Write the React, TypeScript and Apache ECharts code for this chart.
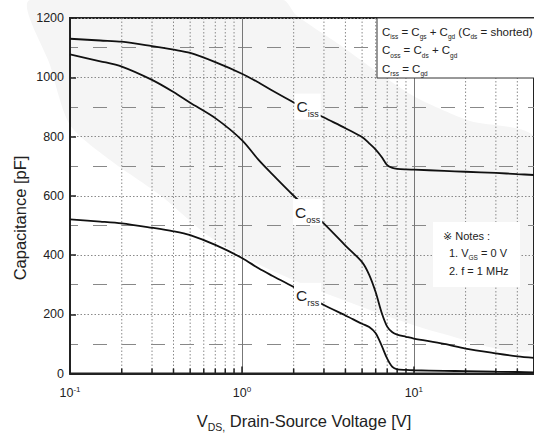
import { useEffect, useRef } from 'react';
import * as echarts from 'echarts';

// Drain-source voltage samples [V]
const vds = [0.1, 0.15, 0.2, 0.3, 0.4, 0.5, 0.7, 1, 1.25, 1.5, 2, 2.5, 3, 4, 5, 5.5, 6, 6.5, 7, 7.5, 8, 9, 10, 15, 20, 30, 40, 50];
// Capacitances [pF]
const ciss = [1130, 1124, 1120, 1105, 1093, 1082, 1051, 1012, 982, 955, 915, 888, 864, 828, 798, 777, 756, 731, 703, 694, 691, 689, 688, 684, 681, 677, 673, 670];
const coss = [1077, 1054, 1036, 991, 950, 914, 862, 788, 721, 673, 600, 547, 506, 432, 376, 333, 274, 205, 158, 139, 131, 124, 118, 100, 84, 68, 58, 53];
const crss = [520, 513, 507, 492, 480, 467, 434, 390, 355, 330, 292, 258, 231, 196, 168, 157, 136, 94, 50, 22, 14, 12, 11, 9, 8, 6, 5, 4];
// Minor (2..9) log grid positions
const xMinorTicks = [0.2, 0.3, 0.4, 0.5, 0.6, 0.7, 0.8, 0.9, 2, 3, 4, 5, 6, 7, 8, 9, 20, 30, 40];
// Curve labels: subscript, anchor voltage, anchor capacitance
const curveLabelSubs = ['iss', 'oss', 'rss'];
const curveLabelV = [2.41, 2.41, 2.41];
const curveLabelC = [901, 545, 262];

const FONT = '"Liberation Sans", Arial, "DejaVu Sans", sans-serif';
const TXT = '#222';

export default function App() {
  const ref = useRef<HTMLDivElement>(null);
  useEffect(() => {
    if (!ref.current) return;
    document.body.style.margin = '0';
    const chart = echarts.init(ref.current, undefined, { renderer: 'svg' });

    const mkSeries = (vals: number[], idx: number) => ({
      type: 'line',
      data: vds.map((v, i) => [v, vals[i]]),
      showSymbol: false,
      smooth: 0.3,
      z: 3,
      lineStyle: { color: '#111', width: 1.8 },
      markPoint: {
        symbol: 'rect',
        symbolSize: 1,
        itemStyle: { color: 'rgba(0,0,0,0)' },
        label: {
          show: true,
          position: 'inside',
          formatter: '{c|C}{s|' + curveLabelSubs[idx] + '}',
          backgroundColor: '#fff',
          padding: [1, 2, 1, 2],
          rich: {
            c: { fontSize: 15.5, lineHeight: 24, color: TXT, fontFamily: FONT },
            s: { fontSize: 9, lineHeight: 7, verticalAlign: 'bottom', color: TXT, fontFamily: FONT },
          },
        },
        data: [{ coord: [curveLabelV[idx], curveLabelC[idx]] }],
      },
    });

    const legendLine = (y: number, text: string) => ({
      type: 'text',
      x: 382,
      y,
      z: 51,
      style: {
        text,
        verticalAlign: 'middle',
        align: 'left',
        fill: TXT,
        rich: {
          m: { fontSize: 11.5, lineHeight: 17, fontFamily: FONT, fill: TXT },
          s: { fontSize: 6.5, lineHeight: 6.5, verticalAlign: 'bottom', fontFamily: FONT, fill: TXT },
        },
      },
    });

    chart.setOption({
      animation: false,
      grid: {
        left: 70,
        top: 18,
        width: 467,
        height: 355.5,
        show: true,
        borderColor: '#222',
        borderWidth: 2,
        backgroundColor: 'transparent',
      },
      xAxis: {
        type: 'log',
        logBase: 10,
        min: 0.1,
        max: 50,
        axisLine: { show: true, lineStyle: { color: '#222', width: 2 } },
        axisTick: { show: true, inside: true, length: 7, lineStyle: { color: '#222', width: 1.5 } },
        splitLine: { show: true, lineStyle: { color: '#777', width: 1, type: 'solid' } },
        axisLabel: {
          margin: 12,
          showMaxLabel: false,
          formatter: (v: number) => {
            const e = Math.log10(v);
            const r = Math.round(e);
            if (Math.abs(e - r) > 0.01) return '';
            return '{b|10}{p|' + (r < 0 ? '-' + -r : String(r)) + '}';
          },
          rich: {
            b: { fontSize: 12.5, lineHeight: 15, color: TXT, fontFamily: FONT },
            p: { fontSize: 8, lineHeight: 8, verticalAlign: 'top', color: TXT, fontFamily: FONT },
          },
        },
      },
      yAxis: {
        type: 'value',
        min: 0,
        max: 1200,
        interval: 200,
        axisLine: { show: true, lineStyle: { color: '#222', width: 2 } },
        axisTick: { show: true, inside: true, length: 6, lineStyle: { color: '#222', width: 1.5 } },
        axisLabel: { margin: 6, fontSize: 12.5, color: TXT, fontFamily: FONT, formatter: (v: number) => String(v) },
        splitLine: { show: true, lineStyle: { color: '#8a8a8a', width: 1, type: [1.5, 2] } },
        minorTick: { show: false, splitNumber: 2 },
        minorSplitLine: { show: true, lineStyle: { color: '#888', width: 1, type: [14, 15], dashOffset: 6 } },
      },
      graphic: [
        {
          type: 'polygon',
          z: -10,
          silent: true,
          shape: {
            smooth: 0.25,
            points: [
              [283, 0], [296, 15], [340, 45], [380, 74], [417, 98], [470, 121], [534, 138],
              [534, 347], [440, 333], [330, 295], [260, 265], [210, 237], [160, 195], [110, 160], [70, 125], [50, 65], [30, 0],
            ],
          },
          style: { fill: '#f5f5f5' },
        },
        {
          type: 'text',
          x: 20,
          y: 218,
          rotation: Math.PI / 2,
          style: { text: 'Capacitance [pF]', align: 'center', verticalAlign: 'middle', fill: TXT, fontSize: 16.5, fontFamily: FONT },
        },
        {
          type: 'text',
          x: 304,
          y: 421,
          style: {
            text: '{v|V}{s|DS,}{v| Drain-Source Voltage [V]}',
            align: 'center',
            verticalAlign: 'middle',
            fill: TXT,
            rich: {
              v: { fontSize: 16.5, lineHeight: 22, fontFamily: FONT, fill: TXT },
              s: { fontSize: 10.5, lineHeight: 10, verticalAlign: 'bottom', fontFamily: FONT, fill: TXT },
            },
          },
        },
        { type: 'rect', z: 50, shape: { x: 377, y: 18, width: 170, height: 60 }, style: { fill: '#fff', stroke: '#333', lineWidth: 1 } },
        legendLine(31.7, '{m|C}{s|iss}{m| = C}{s|gs}{m| + C}{s|gd}{m| (C}{s|ds}{m| = shorted)}'),
        legendLine(50.3, '{m|C}{s|oss}{m| = C}{s|ds}{m| + C}{s|gd}'),
        legendLine(68.7, '{m|C}{s|rss}{m| = C}{s|gd}'),
        { type: 'rect', z: 50, shape: { x: 433, y: 222, width: 87, height: 65 }, style: { fill: '#fff' } },
        { type: 'text', z: 51, x: 443, y: 236, style: { text: '※ Notes :', verticalAlign: 'middle', fill: TXT, fontSize: 11, fontFamily: FONT } },
        {
          type: 'text',
          z: 51,
          x: 449,
          y: 253,
          style: {
            text: '{m|1. V}{s|GS}{m| = 0 V}',
            verticalAlign: 'middle',
            fill: TXT,
            rich: {
              m: { fontSize: 11, lineHeight: 16, fontFamily: FONT, fill: TXT },
              s: { fontSize: 6.5, lineHeight: 6.5, verticalAlign: 'bottom', fontFamily: FONT, fill: TXT },
            },
          },
        },
        { type: 'text', z: 51, x: 449, y: 271, style: { text: '2. f = 1 MHz', verticalAlign: 'middle', fill: TXT, fontSize: 11, fontFamily: FONT } },
      ],
      series: [
        {
          type: 'custom',
          z: 1,
          silent: true,
          data: xMinorTicks.map((v) => [v, 0]),
          renderItem: (_params: any, api: any) => {
            const v = api.value(0);
            const p0 = api.coord([v, 0]);
            const p1 = api.coord([v, 1200]);
            return {
              type: 'group',
              children: [
                { type: 'line', shape: { x1: p0[0], y1: p1[1], x2: p0[0], y2: p0[1] }, style: { stroke: '#8a8a8a', lineWidth: 1, lineDash: [1.5, 2] } },
                { type: 'line', shape: { x1: p0[0], y1: p0[1], x2: p0[0], y2: p0[1] - 5 }, style: { stroke: '#222', lineWidth: 1.5 } },
              ],
            };
          },
        },
        mkSeries(ciss, 0),
        mkSeries(coss, 1),
        mkSeries(crss, 2),
      ],
    });
    return () => chart.dispose();
  }, []);
  return <div ref={ref} style={{ width: 534, height: 435, position: 'absolute', left: 0, top: 0 }} />;
}
